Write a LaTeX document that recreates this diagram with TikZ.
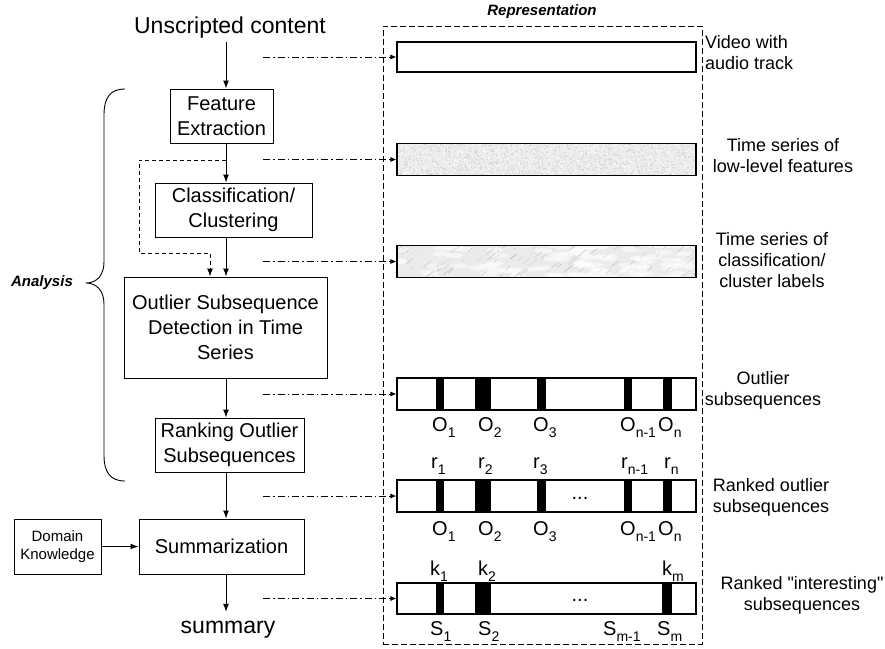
\documentclass[tikz,border=0pt]{standalone}
\usepackage{fontspec}
\setmainfont{Liberation Sans}[Ligatures=TeXOff]
\usetikzlibrary{arrows.meta,calc}
\newcommand{\lsub}[1]{\raisebox{-6pt}{\fontsize{14}{14}\selectfont #1}}
\begin{document}
\begin{tikzpicture}[x=1pt,y=-1pt,
  box/.style={draw, line width=1pt, align=center, inner sep=0pt, font=\fontsize{20}{25}\selectfont},
  bar/.style={draw, line width=1.2pt, minimum width=299pt, minimum height=32pt, inner sep=0pt},
  arr/.style={line width=1pt, -{Latex[length=8pt,width=6pt]}},
  dd/.style={line width=0.8pt, dash pattern=on 7pt off 3pt on 1.5pt off 3pt, -{Latex[length=6pt,width=5pt]}},
  fbline/.style={line width=1pt, dash pattern=on 4pt off 3pt, -{Latex[length=8pt,width=6pt]}},
  lab/.style={font=\fontsize{18}{21}\selectfont, align=center, inner sep=0pt},
  olab/.style={font=\fontsize{20}{20}\selectfont, inner sep=0pt, anchor=base west},
  ttl/.style={font=\fontsize{15}{14}\selectfont\bfseries\itshape, inner sep=0pt}
]
\useasboundingbox (0,0) rectangle (885,648);

% column for vertical flow
\coordinate (colx) at (226,0);

% left flow
\node[anchor=base, inner sep=0pt, text depth=9pt, font=\fontsize{23}{23}\selectfont] (uc) at (230,33) {Unscripted content};
\node[box, minimum width=103pt, minimum height=54pt] (fe) at (221.5,116) {Feature\\Extraction};
\node[box, minimum width=157pt, minimum height=54pt] (cc) at (233.5,210) {Classification/\\Clustering};
\node[box, minimum width=203pt, minimum height=101pt] (osd) at (225.5,327.5) {Outlier Subsequence\\Detection in Time\\Series};
\node[box, minimum width=149pt, minimum height=54pt] (rank) at (229.5,445) {Ranking Outlier\\Subsequences};
\node[box, minimum width=165pt, minimum height=55pt] (summ) at (221.5,546.5) {Summarization};
\node[box, minimum width=87pt, minimum height=55pt, font=\fontsize{15}{18}\selectfont] (dk) at (57.5,546.5) {Domain\\Knowledge};
\node[anchor=base, inner sep=0pt, text height=21pt, font=\fontsize{23}{23}\selectfont] (sum) at (228,633) {summary};

\draw[arr] (uc.south -| colx) -- (fe.north -| colx);
\draw[arr] (fe.south -| colx) -- (cc.north -| colx);
\draw[arr] (cc.south -| colx) -- (osd.north -| colx);
\draw[arr] (osd.south -| colx) -- (rank.north -| colx);
\draw[arr] (rank.south -| colx) -- (summ.north -| colx);
\draw[arr] (summ.south -| colx) -- (sum.north -| colx);
\draw[arr] (dk.east) -- (summ.west);

% feedback dashed line
\coordinate (fb) at (226,160);
\coordinate (fbl) at (139,160);
\coordinate (fbc) at (139,253);
\coordinate (fbd) at (210,253);
\draw[fbline] (fb) -- (fbl) -- (fbc) -- (fbd) -- (fbd |- osd.north);

% brace and Analysis
\draw[line width=0.9pt] (125,89) .. controls (110,89) and (104,98) .. (104,115) -- (104,262)
  .. controls (104,276) and (96,283) .. (86,283)
  .. controls (96,283) and (104,290) .. (104,304) -- (104,455)
  .. controls (104,472) and (110,481) .. (125,481);
\node[ttl] (an) at (42,283) {Analysis};

% representation frame
\node[draw, line width=0.9pt, dash pattern=on 6pt off 3pt, minimum width=319pt, minimum height=618pt, inner sep=0pt] (frame) at (542.5,335) {};
\node[ttl] (rep) at (542,12) {Representation};

% bars
\node[bar, minimum height=30pt] (b1) at (546.5,57) {};
% bar 2 texture: speckled
\begin{scope}
\clip (397,143.5) rectangle (696,175.5);
\fill[gray!14] (397,143.5) rectangle (696,175.5);
\pgfmathsetseed{7}
\foreach \i in {1,...,1400} {
  \pgfmathsetmacro{\xx}{546.5+150*rand}
  \pgfmathsetmacro{\yy}{159.5+17*rand}
  \fill[gray!38] (\xx,\yy) circle (0.6);
}
\foreach \i in {1,...,600} {
  \pgfmathsetmacro{\xx}{546.5+150*rand}
  \pgfmathsetmacro{\yy}{159.5+17*rand}
  \fill[white] (\xx,\yy) circle (0.7);
}
\end{scope}
\node[bar] (b2) at (546.5,159.5) {};
% bar 3 texture: marble
\begin{scope}
\clip (397,245.5) rectangle (696,277.5);
\fill[gray!16] (397,245.5) rectangle (696,277.5);
\pgfmathsetseed{11}
\foreach \i in {1,...,90} {
  \pgfmathsetmacro{\xx}{546.5+150*rand}
  \pgfmathsetmacro{\yy}{261.5+17*rand}
  \fill[white, opacity=0.5] (\xx,\yy) ellipse (9 and 2.5);
}
\foreach \i in {1,...,110} {
  \pgfmathsetmacro{\xx}{546.5+150*rand}
  \pgfmathsetmacro{\yy}{261.5+17*rand}
  \pgfmathsetmacro{\cc}{40+15*rand}
  \pgfmathsetmacro{\ll}{6+4*rand}
  \draw[gray!\cc, line width=0.6pt, opacity=0.8] (\xx,\yy) -- ++(\ll,-0.8*\ll);
}
\end{scope}
\node[bar] (b3) at (546.5,261.5) {};
\node[bar] (b4) at (546.5,394) {};
\node[bar] (b5) at (546.5,496) {};
\node[bar, minimum height=31pt] (b6) at (546.5,598.5) {};

% markers
\foreach \bb in {b4,b5} {
  \foreach \a/\b in {40/48, 79/95, 141/150, 228/236, 267/276} {
    \fill ($(\bb.north west)+(\a,0)$) rectangle ($(\bb.south west)+(\b,0)$);
  }
}
\foreach \a/\b in {40/48, 79/95, 266/276} {
  \fill ($(b6.north west)+(\a,0)$) rectangle ($(b6.south west)+(\b,0)$);
}
\node[font=\fontsize{20}{20}\selectfont, inner sep=0pt] (e5) at (580,498) {...};
\node[font=\fontsize{20}{20}\selectfont, inner sep=0pt] (e6) at (580,600) {...};

% labels under outlier bar
\node[olab] (o41) at (432,431) {O\lsub{1}};
\node[olab] (o42) at (478,431) {O\lsub{2}};
\node[olab] (o43) at (533,431) {O\lsub{3}};
\node[olab] (o44) at (620,431) {O\lsub{n-1}};
\node[olab] (o45) at (658,431) {O\lsub{n}};
% ranked bar labels
\node[olab] (r1) at (431,468) {r\lsub{1}};
\node[olab] (r2) at (478,468) {r\lsub{2}};
\node[olab] (r3) at (533,468) {r\lsub{3}};
\node[olab] (r4) at (621,468) {r\lsub{n-1}};
\node[olab] (r5) at (664,468) {r\lsub{n}};
\node[olab] (o51) at (432,535) {O\lsub{1}};
\node[olab] (o52) at (478,535) {O\lsub{2}};
\node[olab] (o53) at (533,535) {O\lsub{3}};
\node[olab] (o54) at (620,535) {O\lsub{n-1}};
\node[olab] (o55) at (658,535) {O\lsub{n}};
% interesting bar labels
\node[olab] (k1) at (430,575) {k\lsub{1}};
\node[olab] (k2) at (478,575) {k\lsub{2}};
\node[olab] (k3) at (662,575) {k\lsub{m}};
\node[olab] (s1) at (430,635) {S\lsub{1}};
\node[olab] (s2) at (478,635) {S\lsub{2}};
\node[olab] (s3) at (603,635) {S\lsub{m-1}};
\node[olab] (s4) at (657,635) {S\lsub{m}};

% dash-dot arrows
\coordinate (d1) at (263,57);
\coordinate (d2) at (263,159.5);
\coordinate (d3) at (263,261.5);
\coordinate (d4) at (263,394);
\coordinate (d5) at (263,496);
\coordinate (d6) at (263,598.5);
\foreach \i in {1,...,6} { \draw[dd] (d\i) -- (b\i.west); }

% right labels
\node[lab, align=left, anchor=west] (l1) at (705,53) {Video with\\audio track};
\node[lab] (l2) at (783,155.5) {Time series of\\low-level features};
\node[lab] (l3) at (772,260) {Time series of\\classification/\\cluster labels};
\node[lab] (l4) at (763,390) {Outlier\\subsequences};
\node[lab] (l5) at (771,497) {Ranked outlier\\subsequences};
\node[lab] (l6) at (802,595) {Ranked "interesting"\\subsequences};
\end{tikzpicture}
\end{document}
